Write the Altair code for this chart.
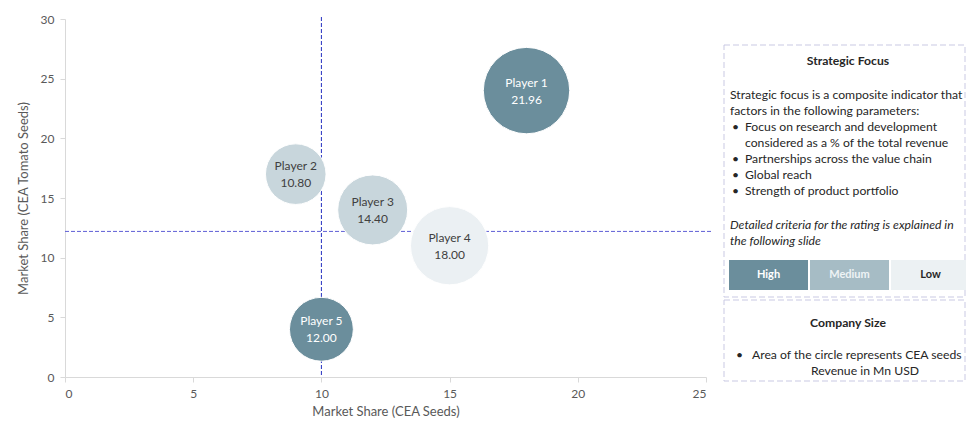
import altair as alt
import pandas as pd

players = ["Player 1", "Player 2", "Player 3", "Player 4", "Player 5"]
share_seeds = [18, 9, 12, 15, 10]
share_tomato = [24, 17, 14, 11, 4]
revenue = [21.96, 10.80, 14.40, 18.00, 12.00]
focus = ["High", "Medium", "Medium", "Low", "High"]

x_ref = 10
y_ref = 12.2

focus_levels = ["High", "Medium", "Low"]
bubble_colors = ["#6b8e9c", "#c8d6dc", "#ebf0f3"]
legend_colors = ["#6b8e9c", "#a6bcc5", "#ecf1f3"]
legend_text_colors = ["#ffffff", "#eef3f5", "#262626"]

panel_title_1 = "Strategic Focus"
panel_lines_1 = [
    ("", "Strategic focus is a composite indicator that"),
    ("", "factors in the following parameters:"),
    ("•", "Focus on research and development"),
    ("", "considered as a % of the total revenue"),
    ("•", "Partnerships across the value chain"),
    ("•", "Global reach"),
    ("•", "Strength of product portfolio"),
]
panel_italic_1 = ["Detailed criteria for the rating is explained in", "the following slide"]
panel_title_2 = "Company Size"
panel_line_2a = "Area of the circle represents CEA seeds"
panel_line_2b = "Revenue in Mn USD"

FONT = "Lato"
W, H = 641, 358
FS = 12.2

df = pd.DataFrame({
    "player": players,
    "x": share_seeds,
    "y": share_tomato,
    "revenue": revenue,
    "focus": focus,
    "rev_label": [f"{v:.2f}" for v in revenue],
})

base = alt.Chart(df)
xs = alt.X("x:Q", scale=alt.Scale(domain=[0, 25], nice=False),
           axis=alt.Axis(values=[0, 5, 10, 15, 20, 25], title="Market Share (CEA Seeds)",
                         titlePadding=6))
ys = alt.Y("y:Q", scale=alt.Scale(domain=[0, 30], nice=False),
           axis=alt.Axis(values=[0, 5, 10, 15, 20, 25, 30], title="Market Share (CEA Tomato Seeds)",
                         titlePadding=10))

vline = alt.Chart(pd.DataFrame({"v": [x_ref]})).mark_rule(
    color="#2430c0", strokeDash=[4, 2], strokeWidth=1
).encode(x=alt.X("v:Q", scale=alt.Scale(domain=[0, 25], nice=False)), y=alt.value(-2), y2=alt.value(H))

hline = alt.Chart(pd.DataFrame({"h": [y_ref]})).mark_rule(
    color="#5f5fd6", strokeDash=[4, 2], strokeWidth=1
).encode(y=alt.Y("h:Q", scale=alt.Scale(domain=[0, 30], nice=False)), x=alt.value(0), x2=alt.value(W + 6))

bubbles = base.mark_circle(opacity=1, stroke="white", strokeWidth=1).encode(
    x=xs, y=ys,
    size=alt.Size("revenue:Q", scale=alt.Scale(domain=[0, 25], range=[0, 8500], zero=True), legend=None),
    color=alt.Color("focus:N", scale=alt.Scale(domain=focus_levels, range=bubble_colors), legend=None),
    order=alt.Order("revenue:Q", sort="descending"),
)

txt_color = alt.condition(alt.datum.focus == "High", alt.value("#ffffff"), alt.value("#404040"))
lab1 = base.mark_text(font=FONT, fontSize=12, dy=-8).encode(x="x:Q", y="y:Q", text="player:N", color=txt_color)
lab2 = base.mark_text(font=FONT, fontSize=12, dy=9).encode(x="x:Q", y="y:Q", text="rev_label:N", color=txt_color)

# Right-hand panel
PX0 = 659   # left edge of panel relative to plot
PX1 = 900
one = pd.DataFrame({"a": [0]})
layers = []

def box(y0, y1):
    return alt.Chart(one).mark_rect(fill=None, stroke="#c9c9e3", strokeDash=[6, 3], strokeWidth=1).encode(
        x=alt.value(PX0), x2=alt.value(PX1), y=alt.value(y0), y2=alt.value(y1))

def text(s, x, y, align="left", weight="normal", style="normal", color="#262626", size=FS):
    return alt.Chart(one).mark_text(font=FONT, fontSize=size, align=align, baseline="middle",
                                    fontWeight=weight, fontStyle=style, color=color).encode(
        x=alt.value(x), y=alt.value(y), text=alt.value(s))

layers.append(box(26, 278))
layers.append(box(281, 362))
layers.append(text(panel_title_1, 783, 42, align="center", weight="bold"))
for i, (b, s) in enumerate(panel_lines_1):
    yy = 76 + 16 * i
    if b:
        layers.append(text(b, 667, yy))
    layers.append(text(s, 665 if not b and i < 2 else 680, yy))
for i, s in enumerate(panel_italic_1):
    layers.append(text(s, 665, 206 + 16 * i, style="italic"))
cell_w = 79
for i, lvl in enumerate(focus_levels):
    x0 = 664 + i * 81
    layers.append(alt.Chart(one).mark_rect(color=legend_colors[i]).encode(
        x=alt.value(x0), x2=alt.value(x0 + cell_w), y=alt.value(241), y2=alt.value(271)))
    layers.append(text(lvl, x0 + cell_w / 2, 256, align="center", weight="bold",
                       color=legend_text_colors[i], size=11))
layers.append(text(panel_title_2, 783, 304, align="center", weight="bold"))
layers.append(text("•", 671, 336))
layers.append(text(panel_line_2a, 687, 336))
layers.append(text(panel_line_2b, 800, 352, align="center"))

chart = alt.layer(vline, hline, bubbles, lab1, lab2, *layers).properties(
    width=W, height=H,
    autosize=alt.AutoSizeParams(type="none"),
    padding={"left": 57, "top": 11, "right": 260, "bottom": 42},
).configure_view(stroke=None).configure_axis(
    grid=False, domainColor="#d9d9d9", tickColor="#d9d9d9", tickSize=5,
    labelColor="#595959", titleColor="#595959", labelFont=FONT, titleFont=FONT,
    labelFontSize=12, titleFontSize=13, titleFontWeight="normal", labelPadding=6,
)

chart.save("out.html", embed_options={"renderer": "svg", "actions": False})
